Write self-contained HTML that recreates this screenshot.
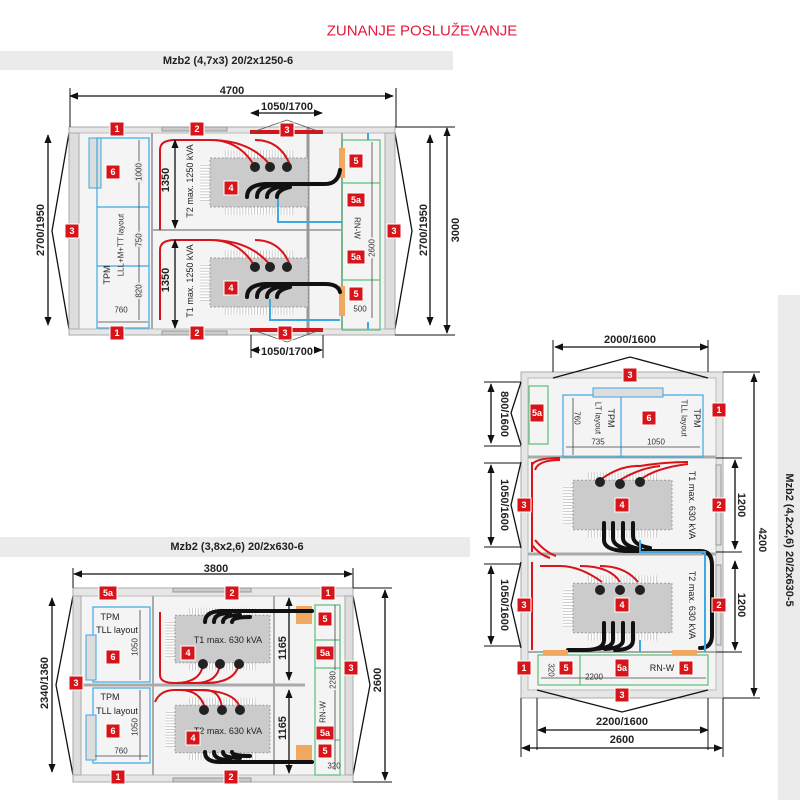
<!DOCTYPE html>
<html><head><meta charset="utf-8"><style>
html,body{margin:0;padding:0;background:#fff;}
svg{display:block;font-family:"Liberation Sans",sans-serif;}
.b rect{fill:#d7141a;stroke:#fff;stroke-width:1}
.b text{fill:#fff;font-weight:bold;font-size:9px;text-anchor:middle;dominant-baseline:central}
.d{font-size:11px;font-weight:bold;fill:#222;text-anchor:middle;dominant-baseline:central;font-family:"Liberation Sans Narrow","Liberation Sans",sans-serif}
.s{font-size:8px;fill:#333;text-anchor:middle;dominant-baseline:central}
.t{font-size:9px;fill:#222;text-anchor:middle;dominant-baseline:central}
.dl{stroke:#111;stroke-width:1.3;fill:none}
.ol{fill:#e6e6e6;stroke:#aaa;stroke-width:1}
.il{fill:#f4f4f4;stroke:#bbb;stroke-width:1}
.bl{fill:none;stroke:#3ea8e0;stroke-width:1.2}
.gr{fill:none;stroke:#5cbf7a;stroke-width:1.2}
.rc{fill:none;stroke:#d7141a;stroke-width:2}
.kc{fill:none;stroke:#111;stroke-width:4;stroke-linecap:round}
</style></head><body>
<svg width="800" height="800" viewBox="0 0 800 800" xmlns="http://www.w3.org/2000/svg">
<defs>
<marker id="a" viewBox="0 0 10 10" refX="9" refY="5" markerWidth="7" markerHeight="7" orient="auto-start-reverse"><path d="M0,1 L10,5 L0,9 z" fill="#111"/></marker>
<pattern id="fin" width="3" height="3" patternUnits="userSpaceOnUse"><rect width="3" height="3" fill="#fff"/><rect width="1" height="3" fill="#c9c9c9"/></pattern>
<pattern id="finh" width="3" height="3" patternUnits="userSpaceOnUse"><rect width="3" height="3" fill="#fff"/><rect width="3" height="1" fill="#c9c9c9"/></pattern>
<symbol id="tx" viewBox="0 0 100 66" overflow="visible">
<rect x="15" y="0" width="70" height="8" fill="url(#fin)"/>
<rect x="15" y="58" width="70" height="8" fill="url(#fin)"/>
<rect x="-10" y="14" width="10" height="38" fill="url(#finh)"/>
<rect x="0" y="8" width="100" height="50" fill="#cbcbcb" stroke="#999" stroke-dasharray="2 2"/>
</symbol>
</defs>

<text x="422" y="31" font-size="15" fill="#e8173c" text-anchor="middle" dominant-baseline="central">ZUNANJE POSLUŽEVANJE</text>
<rect x="0" y="51" width="453" height="19" fill="#ebebeb"/>
<text x="228" y="61" class="d" font-size="12">Mzb2 (4,7x3) 20/2x1250-6</text>
<rect x="0" y="537" width="470" height="20" fill="#ebebeb"/>
<text x="237" y="547" class="d" font-size="12">Mzb2 (3,8x2,6) 20/2x630-6</text>
<rect x="778" y="295" width="22" height="505" fill="#ebebeb"/>
<text transform="translate(789,540) rotate(90)" class="d" font-size="12">Mzb2 (4,2x2,6) 20/2x630-5</text>

<!-- TOP -->
<rect x="69" y="127" width="326" height="208" class="ol"/>
<rect x="75" y="133" width="315" height="196" class="il"/>
<path d="M69,133 L52,231 L69,329 M395,133 L412,231 L395,329" class="dl" stroke-width="1"/>
<rect x="69" y="133" width="10" height="196" fill="#ddd" stroke="#aaa"/>
<rect x="385" y="133" width="10" height="196" fill="#ddd" stroke="#aaa"/>
<line x1="152" y1="133" x2="152" y2="329" stroke="#aaa" stroke-width="2"/>
<line x1="342" y1="133" x2="342" y2="329" stroke="#aaa" stroke-width="2"/>
<line x1="152" y1="230" x2="342" y2="230" stroke="#aaa" stroke-width="2"/>
<line x1="308" y1="127" x2="308" y2="335" stroke="#999" stroke-width="3"/>
<rect x="250" y="130" width="73" height="4" fill="#d7141a"/>
<rect x="250" y="328" width="73" height="4" fill="#d7141a"/>
<rect x="162" y="127" width="65" height="4" fill="#ccc" stroke="#999"/>
<rect x="162" y="331" width="65" height="4" fill="#ccc" stroke="#999"/>
<path d="M250,133 L287,120 L323,133 M250,329 L287,342 L323,329" stroke="#555" fill="none" stroke-width="0.8"/>
<rect x="89" y="138" width="12" height="50" fill="#ddd" stroke="#3ea8e0"/>
<rect x="97" y="138" width="52" height="190" class="bl" fill="#ececec"/>
<line x1="97" y1="207" x2="149" y2="207" class="bl"/>
<line x1="97" y1="266" x2="149" y2="266" class="bl"/>
<line x1="139" y1="140" x2="139" y2="320" stroke="#444" stroke-width="0.8"/>
<line x1="98" y1="322" x2="148" y2="322" stroke="#444" stroke-width="0.8"/>
<text transform="translate(139,172) rotate(-90)" class="s" style="paint-order:stroke" stroke="#ececec" stroke-width="4">1000</text>
<text transform="translate(139,240) rotate(-90)" class="s" style="paint-order:stroke" stroke="#ececec" stroke-width="4">750</text>
<text transform="translate(139,291) rotate(-90)" class="s" style="paint-order:stroke" stroke="#ececec" stroke-width="4">820</text>
<text x="121" y="310" class="s">760</text>
<text transform="translate(107,275) rotate(-90)" class="t" font-size="10">TPM</text>
<text transform="translate(121,245) rotate(-90)" class="s">LLL+M+TT layout</text>
<rect x="342" y="140" width="38" height="190" class="gr"/>
<line x1="342" y1="183" x2="380" y2="183" class="gr"/><line x1="342" y1="280" x2="380" y2="280" class="gr"/>
<rect x="339" y="148" width="6" height="30" fill="#f0a860"/><rect x="339" y="286" width="6" height="30" fill="#f0a860"/>
<line x1="372" y1="142" x2="372" y2="318" stroke="#444" stroke-width="0.8"/>
<text transform="translate(357,228) rotate(90)" class="s" font-size="9">RN-W</text>
<text transform="translate(372,248) rotate(-90)" class="s" style="paint-order:stroke" stroke="#f4f4f4" stroke-width="4">2600</text>
<text x="360" y="309" class="s">500</text>
<line x1="368" y1="133" x2="368" y2="140" stroke="#3ea8e0" stroke-width="2"/><line x1="368" y1="322" x2="368" y2="329" stroke="#3ea8e0" stroke-width="2"/>
<use href="#tx" x="210" y="150" width="98" height="65"/>
<use href="#tx" x="210" y="250" width="98" height="65"/>
<path d="M160,230 L160,150 Q160,140 175,140 L210,140 Q250,140 270,165 M210,140 Q240,140 255,167 M255,140 Q280,140 290,165" class="rc"/>
<path d="M160,320 L160,250 Q160,240 175,240 L210,240 Q250,240 270,265 M210,240 Q240,240 255,267 M255,240 Q280,240 290,265" class="rc"/>
<circle cx="255" cy="167" r="5" fill="#222"/><circle cx="270" cy="167" r="5" fill="#222"/><circle cx="287" cy="167" r="5" fill="#222"/>
<circle cx="255" cy="267" r="5" fill="#222"/><circle cx="270" cy="267" r="5" fill="#222"/><circle cx="287" cy="267" r="5" fill="#222"/>
<path d="M247,197 Q247,185 265,184 L308,184 L325,184 Q338,184 340,170 M257,197 Q257,186 275,185 M267,197 Q267,188 285,186 M277,197 Q277,190 290,187" class="kc"/>
<path d="M247,297 Q247,285 265,284 L308,284 L325,284 Q338,284 340,292 M257,297 Q257,286 275,285 M267,297 Q267,288 285,286 M277,297 Q277,290 290,287" class="kc"/>
<path d="M278,199 L278,222 L342,222" fill="none" stroke="#3ea8e0" stroke-width="2"/>
<path d="M270,299 L270,320 L340,320" fill="none" stroke="#3ea8e0" stroke-width="2"/>
<line x1="70" y1="96" x2="393" y2="96" class="dl" marker-start="url(#a)" marker-end="url(#a)"/>
<line x1="70" y1="88" x2="70" y2="127" stroke="#111"/><line x1="396" y1="88" x2="396" y2="127" stroke="#111"/>
<text x="232" y="91" class="d">4700</text>
<line x1="251" y1="113" x2="322" y2="113" class="dl" marker-start="url(#a)" marker-end="url(#a)"/>
<text x="287" y="107" class="d">1050/1700</text>
<line x1="251" y1="350" x2="322" y2="350" class="dl" marker-start="url(#a)" marker-end="url(#a)"/>
<line x1="251" y1="335" x2="251" y2="358" stroke="#111"/><line x1="323" y1="335" x2="323" y2="358" stroke="#111"/>
<text x="287" y="352" class="d" style="paint-order:stroke" stroke="#fff" stroke-width="3">1050/1700</text>
<line x1="48" y1="135" x2="48" y2="325" class="dl" marker-start="url(#a)" marker-end="url(#a)"/>
<text transform="translate(41,230) rotate(-90)" class="d">2700/1950</text>
<line x1="430" y1="135" x2="430" y2="325" class="dl" marker-start="url(#a)" marker-end="url(#a)"/>
<text transform="translate(424,230) rotate(-90)" class="d">2700/1950</text>
<line x1="447" y1="128" x2="447" y2="333" class="dl" marker-start="url(#a)" marker-end="url(#a)"/>
<line x1="395" y1="127" x2="455" y2="127" stroke="#111"/><line x1="395" y1="335" x2="455" y2="335" stroke="#111"/>
<text transform="translate(456,230) rotate(-90)" class="d">3000</text>
<line x1="175" y1="140" x2="175" y2="228" class="dl" marker-start="url(#a)" marker-end="url(#a)"/>
<line x1="175" y1="240" x2="175" y2="328" class="dl" marker-start="url(#a)" marker-end="url(#a)"/>
<text transform="translate(166,180) rotate(-90)" class="d" font-size="12">1350</text>
<text transform="translate(166,280) rotate(-90)" class="d" font-size="12">1350</text>
<text transform="translate(190,181) rotate(-90)" class="t">T2  max. 1250 kVA</text>
<text transform="translate(190,281) rotate(-90)" class="t">T1  max. 1250 kVA</text>
<g class="b">
<rect x="110" y="122" width="14" height="14"/><text x="117" y="129">1</text>
<rect x="110" y="326" width="14" height="14"/><text x="117" y="333">1</text>
<rect x="190" y="122" width="14" height="14"/><text x="197" y="129">2</text>
<rect x="190" y="326" width="14" height="14"/><text x="197" y="333">2</text>
<rect x="280" y="123" width="14" height="14"/><text x="287" y="130">3</text>
<rect x="278" y="326" width="14" height="14"/><text x="285" y="333">3</text>
<rect x="65" y="224" width="14" height="14"/><text x="72" y="231">3</text>
<rect x="387" y="224" width="14" height="14"/><text x="394" y="231">3</text>
<rect x="106" y="165" width="14" height="14"/><text x="113" y="172">6</text>
<rect x="224" y="181" width="14" height="14"/><text x="231" y="188">4</text>
<rect x="224" y="281" width="14" height="14"/><text x="231" y="288">4</text>
<rect x="349" y="154" width="14" height="14"/><text x="356" y="161">5</text>
<rect x="349" y="287" width="14" height="14"/><text x="356" y="294">5</text>
<rect x="347" y="193" width="18" height="14"/><text x="356" y="200">5a</text>
<rect x="347" y="250" width="18" height="14"/><text x="356" y="257">5a</text>
</g>

<!-- BOTTOM-LEFT -->
<rect x="73" y="588" width="280" height="194" class="ol"/>
<rect x="80" y="596" width="265" height="179" class="il"/>
<path d="M73,596 L56,685 L73,775 M353,596 L370,685 L353,775" class="dl" stroke-width="1"/>
<rect x="73" y="596" width="8" height="179" fill="#ddd" stroke="#aaa"/>
<rect x="345" y="596" width="8" height="179" fill="#ddd" stroke="#aaa"/>
<line x1="153" y1="596" x2="153" y2="775" stroke="#aaa" stroke-width="2"/>
<line x1="274" y1="596" x2="274" y2="775" stroke="#aaa" stroke-width="2"/>
<line x1="80" y1="685" x2="305" y2="685" stroke="#aaa" stroke-width="3"/>
<rect x="173" y="588" width="78" height="4" fill="#ccc" stroke="#999"/>
<rect x="173" y="778" width="78" height="4" fill="#ccc" stroke="#999"/>
<rect x="93" y="607" width="57" height="75" class="bl" fill="#ececec"/>
<rect x="93" y="688" width="57" height="75" class="bl" fill="#ececec"/>
<rect x="86" y="635" width="10" height="45" fill="#ddd" stroke="#3ea8e0"/>
<rect x="86" y="715" width="10" height="45" fill="#ddd" stroke="#3ea8e0"/>
<text x="110" y="617" class="t" font-size="10">TPM</text><text x="117" y="630" class="t">TLL layout</text>
<text x="110" y="697" class="t" font-size="10">TPM</text><text x="117" y="711" class="t">TLL layout</text>
<line x1="140" y1="610" x2="140" y2="680" stroke="#444" stroke-width="0.8"/>
<line x1="140" y1="690" x2="140" y2="760" stroke="#444" stroke-width="0.8"/>
<text transform="translate(135,647) rotate(-90)" class="s">1050</text>
<text transform="translate(135,727) rotate(-90)" class="s">1050</text>
<line x1="95" y1="756" x2="148" y2="756" stroke="#444" stroke-width="0.8"/>
<text x="121" y="751" class="s">760</text>
<rect x="315" y="605" width="25" height="170" class="gr"/>
<line x1="315" y1="640" x2="340" y2="640" class="gr"/><line x1="315" y1="668" x2="340" y2="668" class="gr"/><line x1="315" y1="740" x2="340" y2="740" class="gr"/>
<rect x="296" y="606" width="16" height="18" fill="#f0a860"/><rect x="296" y="745" width="16" height="18" fill="#f0a860"/>
<use href="#tx" x="175" y="607" width="95" height="64"/>
<use href="#tx" x="175" y="697" width="95" height="64"/>
<path d="M160,612 L160,675 Q160,683 175,683 L210,683 M175,683 Q200,683 203,665 M195,683 Q218,683 220,664 M205,683 Q235,683 239,664" class="rc"/>
<path d="M155,702 Q160,690 175,690 L205,690 Q220,690 222,708 M180,690 Q200,690 205,708 M195,690 Q235,690 240,708" class="rc"/>
<path d="M205,622 Q205,612 220,611 L312,611 M214,622 Q214,613 230,613 M223,622 Q223,615 240,615 M232,622 Q232,617 250,617" class="kc" stroke-width="3.5"/>
<path d="M205,752 Q205,762 220,762 L312,762 M214,752 Q214,760 230,760 M223,752 Q223,758 240,758 M232,752 Q232,756 250,756" class="kc" stroke-width="3.5"/>
<circle cx="203" cy="664" r="5" fill="#222"/><circle cx="220" cy="664" r="5" fill="#222"/><circle cx="239" cy="664" r="5" fill="#222"/>
<circle cx="204" cy="710" r="5" fill="#222"/><circle cx="222" cy="710" r="5" fill="#222"/><circle cx="240" cy="710" r="5" fill="#222"/>
<text x="228" y="640" class="t">T1  max. 630 kVA</text>
<text x="228" y="731" class="t">T2  max. 630 kVA</text>
<line x1="289" y1="598" x2="289" y2="680" class="dl" marker-start="url(#a)" marker-end="url(#a)"/>
<line x1="289" y1="690" x2="289" y2="773" class="dl" marker-start="url(#a)" marker-end="url(#a)"/>
<text transform="translate(283,648) rotate(-90)" class="d" style="paint-order:stroke" stroke="#f4f4f4" stroke-width="3">1165</text>
<text transform="translate(283,728) rotate(-90)" class="d" style="paint-order:stroke" stroke="#f4f4f4" stroke-width="3">1165</text>
<text transform="translate(323,712) rotate(-90)" class="s" font-size="9">RN-W</text>
<line x1="335" y1="605" x2="335" y2="770" stroke="#444" stroke-width="0.8"/>
<text transform="translate(333,680) rotate(-90)" class="s" style="paint-order:stroke" stroke="#f4f4f4" stroke-width="3">2280</text>
<text x="334" y="766" class="s">320</text>
<line x1="74" y1="574" x2="352" y2="574" class="dl" marker-start="url(#a)" marker-end="url(#a)"/>
<line x1="73" y1="568" x2="73" y2="588" stroke="#111"/><line x1="353" y1="568" x2="353" y2="588" stroke="#111"/>
<text x="216" y="569" class="d">3800</text>
<line x1="52" y1="598" x2="52" y2="772" class="dl" marker-start="url(#a)" marker-end="url(#a)"/>
<text transform="translate(45,683) rotate(-90)" class="d">2340/1360</text>
<line x1="385" y1="590" x2="385" y2="780" class="dl" marker-start="url(#a)" marker-end="url(#a)"/>
<line x1="353" y1="588" x2="392" y2="588" stroke="#111"/><line x1="353" y1="782" x2="392" y2="782" stroke="#111"/>
<text transform="translate(378,680) rotate(-90)" class="d">2600</text>
<g class="b">
<rect x="99" y="586" width="18" height="14"/><text x="108" y="593">5a</text>
<rect x="225" y="586" width="14" height="14"/><text x="232" y="593">2</text>
<rect x="321" y="586" width="14" height="14"/><text x="328" y="593">1</text>
<rect x="106" y="650" width="14" height="14"/><text x="113" y="657">6</text>
<rect x="106" y="724" width="14" height="14"/><text x="113" y="731">6</text>
<rect x="69" y="676" width="14" height="14"/><text x="76" y="683">3</text>
<rect x="344" y="661" width="14" height="14"/><text x="351" y="668">3</text>
<rect x="181" y="646" width="14" height="14"/><text x="188" y="653">4</text>
<rect x="186" y="731" width="14" height="14"/><text x="193" y="738">4</text>
<rect x="318" y="612" width="14" height="14"/><text x="325" y="619">5</text>
<rect x="318" y="744" width="14" height="14"/><text x="325" y="751">5</text>
<rect x="316" y="646" width="18" height="14"/><text x="325" y="653">5a</text>
<rect x="316" y="726" width="18" height="14"/><text x="325" y="733">5a</text>
<rect x="111" y="770" width="14" height="14"/><text x="118" y="777">1</text>
<rect x="224" y="770" width="14" height="14"/><text x="231" y="777">2</text>
</g>

<!-- RIGHT -->
<rect x="521" y="372" width="202" height="326" class="ol"/>
<rect x="528" y="378" width="188" height="312" class="il"/>
<path d="M553,378 L630,357 L708,378 M537,690 L622,712 L708,690" class="dl" stroke-width="1"/>
<path d="M521,382 L511,413 L521,445 M521,462 L511,505 L521,548 M521,562 L511,605 L521,648" class="dl" stroke-width="1"/>
<line x1="528" y1="457" x2="716" y2="457" stroke="#aaa" stroke-width="3"/>
<line x1="528" y1="554" x2="716" y2="554" stroke="#aaa" stroke-width="3"/>
<line x1="528" y1="652" x2="716" y2="652" stroke="#aaa" stroke-width="2"/>
<rect x="716" y="465" width="5" height="80" fill="#ddd" stroke="#999"/>
<rect x="716" y="565" width="5" height="80" fill="#ddd" stroke="#999"/>
<rect x="529" y="386" width="19" height="58" class="gr"/>
<rect x="563" y="395" width="140" height="62" class="bl" fill="#ececec"/>
<line x1="621" y1="395" x2="621" y2="457" class="bl"/>
<rect x="593" y="388" width="70" height="9" fill="#ddd" stroke="#3ea8e0"/>
<line x1="573" y1="398" x2="573" y2="455" stroke="#444" stroke-width="0.8"/>
<line x1="566" y1="447" x2="700" y2="447" stroke="#444" stroke-width="0.8"/>
<text transform="translate(577,418) rotate(90)" class="s">760</text>
<text x="598" y="442" class="s">735</text><text x="656" y="442" class="s">1050</text>
<text transform="translate(611,418) rotate(90)" class="t" font-size="10">TPM</text>
<text transform="translate(598,418) rotate(90)" class="s">LT layout</text>
<text transform="translate(697,418) rotate(90)" class="t" font-size="10">TPM</text>
<text transform="translate(684,418) rotate(90)" class="s">TLL layout</text>
<use href="#tx" x="573" y="469" width="99" height="72"/>
<use href="#tx" x="573" y="572" width="99" height="72"/>
<path d="M532,462 L532,552 M532,465 Q535,458 560,458 M535,470 Q538,460 560,460 M532,545 Q540,555 550,558 M535,540 Q545,552 556,556" class="rc"/>
<path d="M532,562 L532,650 M540,566 L560,566 Q580,566 602,582 M580,566 Q610,566 620,582 M600,566 Q625,566 638,582" class="rc"/>
<path d="M600,480 Q620,465 640,466 Q665,462 688,462 M620,480 Q640,468 660,466 M640,480 Q655,468 688,464" class="rc"/>
<circle cx="600" cy="482" r="5" fill="#222"/><circle cx="620" cy="484" r="5" fill="#222"/><circle cx="640" cy="482" r="5" fill="#222"/>
<circle cx="600" cy="590" r="5" fill="#222"/><circle cx="620" cy="590" r="5" fill="#222"/><circle cx="640" cy="590" r="5" fill="#222"/>
<path d="M604,523 L604,540 Q604,550 625,551 L700,551 Q712,551 712,565 L712,635 Q712,648 700,648 M613,523 L613,538 Q613,548 635,550 M623,523 L623,538 Q623,546 640,549 M633,523 L633,536 Q633,545 650,548" class="kc" stroke-width="3.5"/>
<path d="M604,623 L604,640 Q604,650 585,650 L568,650 M613,623 L613,640 Q613,648 595,649 M623,623 L623,640 Q623,648 605,649 M633,623 L633,640 Q633,650 615,650" class="kc" stroke-width="3.5"/>
<path d="M640,540 L640,552 L705,552 L705,652" fill="none" stroke="#3ea8e0" stroke-width="2"/>
<path d="M640,640 L640,652" fill="none" stroke="#3ea8e0" stroke-width="2"/>
<rect x="538" y="655" width="170" height="30" class="gr"/>
<line x1="580" y1="655" x2="580" y2="685" class="gr"/>
<rect x="543" y="650" width="25" height="5" fill="#f0a860"/><rect x="672" y="650" width="25" height="5" fill="#f0a860"/>
<line x1="541" y1="678" x2="706" y2="678" stroke="#444" stroke-width="0.8"/>
<text x="594" y="677" class="s">2200</text>
<text transform="translate(551,670) rotate(90)" class="s">320</text>
<text x="662" y="668" class="t" font-size="10">RN-W</text>
<text transform="translate(692,505) rotate(90)" class="t">T1  max. 630 kVA</text>
<text transform="translate(692,605) rotate(90)" class="t">T2  max. 630 kVA</text>
<line x1="555" y1="347" x2="708" y2="347" class="dl" marker-start="url(#a)" marker-end="url(#a)"/>
<line x1="553" y1="340" x2="553" y2="372" stroke="#111"/><line x1="708" y1="340" x2="708" y2="372" stroke="#111"/>
<text x="630" y="340" class="d">2000/1600</text>
<line x1="538" y1="730" x2="708" y2="730" class="dl" marker-start="url(#a)" marker-end="url(#a)"/>
<line x1="537" y1="698" x2="537" y2="750" stroke="#111"/><line x1="708" y1="698" x2="708" y2="750" stroke="#111"/>
<text x="622" y="722" class="d">2200/1600</text>
<line x1="522" y1="748" x2="722" y2="748" class="dl" marker-start="url(#a)" marker-end="url(#a)"/>
<line x1="521" y1="698" x2="521" y2="757" stroke="#111"/><line x1="723" y1="698" x2="723" y2="757" stroke="#111"/>
<text x="622" y="740" class="d">2600</text>
<line x1="491" y1="384" x2="491" y2="443" class="dl" marker-start="url(#a)" marker-end="url(#a)"/>
<line x1="484" y1="382" x2="521" y2="382" stroke="#111"/><line x1="484" y1="446" x2="521" y2="446" stroke="#111"/>
<text transform="translate(504,414) rotate(90)" class="d">800/1600</text>
<line x1="491" y1="465" x2="491" y2="545" class="dl" marker-start="url(#a)" marker-end="url(#a)"/>
<line x1="484" y1="463" x2="521" y2="463" stroke="#111"/><line x1="484" y1="547" x2="521" y2="547" stroke="#111"/>
<text transform="translate(504,505) rotate(90)" class="d">1050/1600</text>
<line x1="491" y1="566" x2="491" y2="644" class="dl" marker-start="url(#a)" marker-end="url(#a)"/>
<line x1="484" y1="564" x2="521" y2="564" stroke="#111"/><line x1="484" y1="646" x2="521" y2="646" stroke="#111"/>
<text transform="translate(504,605) rotate(90)" class="d">1050/1600</text>
<line x1="735" y1="460" x2="735" y2="549" class="dl" marker-start="url(#a)" marker-end="url(#a)"/>
<line x1="735" y1="561" x2="735" y2="650" class="dl" marker-start="url(#a)" marker-end="url(#a)"/>
<line x1="716" y1="458" x2="742" y2="458" stroke="#111"/><line x1="716" y1="552" x2="742" y2="552" stroke="#111"/><line x1="716" y1="652" x2="742" y2="652" stroke="#111"/>
<text transform="translate(741,505) rotate(90)" class="d">1200</text>
<text transform="translate(741,605) rotate(90)" class="d">1200</text>
<line x1="754" y1="374" x2="754" y2="696" class="dl" marker-start="url(#a)" marker-end="url(#a)"/>
<line x1="723" y1="372" x2="760" y2="372" stroke="#111"/><line x1="723" y1="698" x2="760" y2="698" stroke="#111"/>
<text transform="translate(762,540) rotate(90)" class="d">4200</text>
<g class="b">
<rect x="623" y="368" width="14" height="14"/><text x="630" y="375">3</text>
<rect x="712" y="403" width="14" height="14"/><text x="719" y="410">1</text>
<rect x="530" y="404" width="14" height="18"/><text x="537" y="413">5a</text>
<rect x="642" y="411" width="14" height="14"/><text x="649" y="418">6</text>
<rect x="517" y="498" width="14" height="14"/><text x="524" y="505">3</text>
<rect x="615" y="498" width="14" height="14"/><text x="622" y="505">4</text>
<rect x="712" y="498" width="14" height="14"/><text x="719" y="505">2</text>
<rect x="517" y="598" width="14" height="14"/><text x="524" y="605">3</text>
<rect x="615" y="598" width="14" height="14"/><text x="622" y="605">4</text>
<rect x="712" y="598" width="14" height="14"/><text x="719" y="605">2</text>
<rect x="517" y="661" width="14" height="14"/><text x="524" y="668">1</text>
<rect x="559" y="661" width="14" height="14"/><text x="566" y="668">5</text>
<rect x="615" y="659" width="14" height="18"/><text x="622" y="668">5a</text>
<rect x="679" y="661" width="14" height="14"/><text x="686" y="668">5</text>
<rect x="615" y="688" width="14" height="14"/><text x="622" y="695">3</text>
</g>
</svg>
</body></html>
